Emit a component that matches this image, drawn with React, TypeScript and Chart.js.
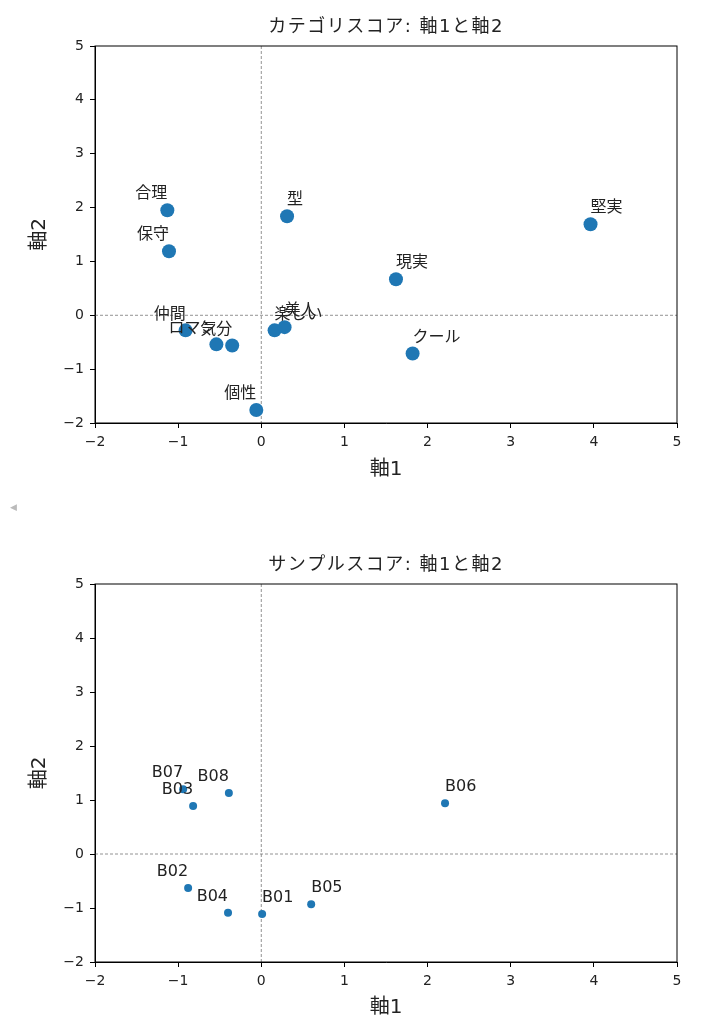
import React, { useEffect, useRef } from "react";
import { Chart, registerables } from "chart.js";

Chart.register(...registerables);

// category scores (axis 1, axis 2)
const categoryLabels = ["合理", "保守", "型", "堅実", "現実", "クール", "仲間", "ロマン", "気分", "楽しい", "美人", "個性"];
const categoryX = [-1.13, -1.11, 0.31, 3.96, 1.62, 1.82, -0.91, -0.54, -0.35, 0.16, 0.28, -0.06];
const categoryY = [1.95, 1.19, 1.84, 1.69, 0.67, -0.71, -0.28, -0.54, -0.56, -0.28, -0.22, -1.76];

// sample scores (axis 1, axis 2)
const sampleLabels = ["B01", "B02", "B03", "B04", "B05", "B06", "B07", "B08"];
const sampleX = [0.01, -0.88, -0.82, -0.4, 0.6, 2.21, -0.94, -0.39];
const sampleY = [-1.11, -0.63, 0.89, -1.09, -0.93, 0.94, 1.2, 1.13];

const axisTicks = [-2, -1, 0, 1, 2, 3, 4, 5];

const FONT = "'DejaVu Sans', 'Noto Sans CJK JP', sans-serif";
const BLUE = "#1f77b4";

type PanelProps = {
  title: string;
  labels: string[];
  xs: number[];
  ys: number[];
  radius: number;
  height: number;
  padTop: number;
  xAxisHeight: number;
  titleY: number;
  xTitleY: number;
};

const minus = (v: number | string) => String(v).replace("-", "\u2212");

const ScatterPanel = (p: PanelProps) => {
  const canvasRef = useRef<HTMLCanvasElement>(null);

  useEffect(() => {
    if (!canvasRef.current) return;

    const overlay = {
      id: "overlay",
      beforeDatasetsDraw(chart: any) {
        const { ctx, chartArea: a, scales } = chart;
        const x0 = scales.x.getPixelForValue(0);
        const y0 = scales.y.getPixelForValue(0);
        ctx.save();
        ctx.strokeStyle = "#777";
        ctx.lineWidth = 0.8;
        ctx.setLineDash([3, 2]);
        ctx.beginPath();
        ctx.moveTo(x0, a.top);
        ctx.lineTo(x0, a.bottom);
        ctx.moveTo(a.left, y0);
        ctx.lineTo(a.right, y0);
        ctx.stroke();
        ctx.restore();
      },
      afterDatasetsDraw(chart: any) {
        const { ctx, scales } = chart;
        ctx.save();
        ctx.font = `16px ${FONT}`;
        ctx.fillStyle = "#222";
        ctx.textBaseline = "middle";
        p.labels.forEach((lab, i) => {
          const px = scales.x.getPixelForValue(p.xs[i]);
          const py = scales.y.getPixelForValue(p.ys[i]);
          ctx.textAlign = p.xs[i] < 0 ? "right" : "left";
          ctx.fillText(lab, px, py - 16);
        });
        ctx.restore();
      },
      afterDraw(chart: any) {
        const { ctx, chartArea: a } = chart;
        ctx.save();
        ctx.strokeStyle = "#000";
        ctx.lineWidth = 1;
        ctx.strokeRect(a.left, a.top, a.right - a.left, a.bottom - a.top);
        ctx.fillStyle = "#222";
        ctx.textAlign = "center";
        ctx.textBaseline = "middle";
        ctx.font = `18px ${FONT}`;
        ctx.letterSpacing = "1.5px";
        ctx.fillText(p.title, (a.left + a.right) / 2, p.titleY);
        ctx.letterSpacing = "0px";
        ctx.font = `20px ${FONT}`;
        ctx.fillText("軸1", (a.left + a.right) / 2, p.xTitleY);
        ctx.translate(40, (a.top + a.bottom) / 2);
        ctx.rotate(-Math.PI / 2);
        ctx.fillText("軸2", 0, 0);
        ctx.restore();
      },
    };

    const axis = (fit: (s: any) => void) => ({
      type: "linear" as const,
      min: axisTicks[0],
      max: axisTicks[axisTicks.length - 1],
      afterBuildTicks: (s: any) => {
        s.ticks = axisTicks.map((v) => ({ value: v }));
      },
      afterFit: fit,
      grid: { drawOnChartArea: false, drawTicks: true, tickLength: 5, color: "#000" },
      border: { display: true, color: "#000", width: 1 },
      ticks: {
        padding: 6,
        color: "#222",
        font: { family: FONT, size: 14 },
        callback: (v: number | string) => minus(v),
      },
    });

    const chart = new Chart(canvasRef.current, {
      type: "scatter",
      data: {
        datasets: [
          {
            data: p.xs.map((x, i) => ({ x, y: p.ys[i] })),
            backgroundColor: BLUE,
            borderWidth: 0,
            pointRadius: p.radius,
            pointHoverRadius: p.radius,
          },
        ],
      },
      options: {
        animation: false,
        responsive: false,
        events: [],
        layout: { padding: { top: p.padTop, left: 0, right: 25, bottom: 0 } },
        plugins: { legend: { display: false }, tooltip: { enabled: false }, title: { display: false } },
        scales: {
          x: axis((s) => { s.height = p.xAxisHeight; }),
          y: axis((s) => { s.width = 95; }),
        },
      },
      plugins: [overlay],
    });

    return () => {
      chart.destroy();
    };
  }, []);

  return <canvas ref={canvasRef} width={702} height={p.height} style={{ display: "block" }}></canvas>;
};

const App = () => {
  return (
    <div style={{ position: "absolute", left: 0, top: 0, width: 702, height: 1027, background: "#fff" }}>
      <ScatterPanel
        title="カテゴリスコア: 軸1と軸2"
        labels={categoryLabels}
        xs={categoryX}
        ys={categoryY}
        radius={7}
        height={500}
        padTop={46}
        xAxisHeight={77}
        titleY={27}
        xTitleY={470}
      />
      <span style={{ position: "absolute", left: 10, top: 502, fontSize: 9, color: "#bbb", fontFamily: FONT }}>◀</span>
      <ScatterPanel
        title="サンプルスコア: 軸1と軸2"
        labels={sampleLabels}
        xs={sampleX}
        ys={sampleY}
        radius={4}
        height={527}
        padTop={84}
        xAxisHeight={65}
        titleY={65}
        xTitleY={508}
      />
    </div>
  );
};

export default App;
